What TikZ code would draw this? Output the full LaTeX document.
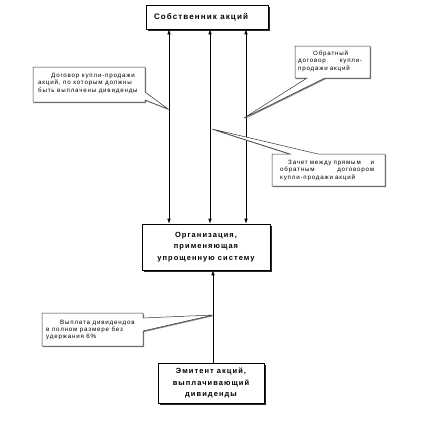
\documentclass[tikz,border=0pt]{standalone}
\usepackage{fontspec}
\setmainfont{Liberation Sans}
\newfontfamily\bxfont[LetterSpace=14]{Liberation Sans}
\newfontfamily\clfont[LetterSpace=13]{Liberation Sans}
\usetikzlibrary{arrows.meta,shadows}
\begin{document}
\begin{tikzpicture}[x=1pt,y=-1pt,
  mainbox/.style={draw, fill=white, line width=0.6pt, inner sep=0pt, align=center,
    drop shadow={shadow xshift=1.6pt, shadow yshift=-1.6pt, fill=black!85, opacity=1},
    font=\bxfont\bfseries\fontsize{7.5}{11.5}\selectfont},
  callout/.style={draw=black!80, fill=white, line width=0.5pt, line join=miter,
    drop shadow={shadow xshift=1pt, shadow yshift=-1pt, fill=black!50, opacity=1}},
  cltext/.style={inner sep=0pt, anchor=north west, align=left,
    font=\clfont\fontsize{6.2}{7.5}\selectfont},
  dbl/.style={line width=0.6pt, {Latex[length=5pt,width=3.5pt]}-{Latex[length=5pt,width=3.5pt]}},
  sgl/.style={line width=0.6pt, -{Latex[length=5pt,width=3.5pt]}}]
\useasboundingbox (0,0) rectangle (426,426);

% main boxes
\node[mainbox, minimum width=122pt, minimum height=24pt, font=\bxfont\bfseries\fontsize{8}{11.5}\selectfont] (own) at (207,17) {Собственник акций\hspace*{12pt}};
\node[mainbox, minimum width=128pt, minimum height=46pt] (org) at (206,247) {Организация,\\применяющая\\упрощенную систему};
\node[mainbox, minimum width=106pt, minimum height=40pt] (emi) at (211,383) {Эмитент акций,\\выплачивающий\\дивиденды};

% vertical connectors
\coordinate (x1) at (169,0);
\coordinate (x2) at (210,0);
\coordinate (x3) at (246,0);
\coordinate (x4) at (213,0);
\draw[dbl] (own.south -| x1) -- (org.north -| x1);
\draw[dbl] (own.south -| x2) -- (org.north -| x2);
\draw[dbl] (own.south -| x3) -- (org.north -| x3);
\draw[sgl] (emi.north -| x4) -- (org.south -| x4);

% callout tips
\coordinate (t1) at (168,109);
\coordinate (t2) at (244,118);
\coordinate (t3) at (212,129);
\coordinate (t4) at (213,315);

% callout 1
\draw[callout] (33,67) -- (145,67) -- (145,92) -- (t1) -- (145,100) -- (145,102) -- (33,102) -- cycle;
\node[cltext] (c1) at (38,73) {\hspace*{13pt}Договор купли-продажи\\акций, по которым должны\\быть выплачены дивиденды};

% callout 2
\draw[callout] (295,46) -- (370,46) -- (370,78) -- (325,78) -- (t2) -- (307,78) -- (295,78) -- cycle;
\node[cltext, text width=64pt] (c2) at (298,50.5) {\hspace*{15pt}Обратный\\договор\hfill купли-\\продажи акций};

% callout 3
\draw[callout] (272,154) -- (290,154) -- (t3) -- (318,154) -- (385,154) -- (385,186) -- (272,186) -- cycle;
\node[cltext, text width=94pt] (c3) at (280,159.5) {\hspace*{8pt}Зачет между прямым\hfill и\\обратным\hfill договором\\купли-продажи акций};

% callout 4
\draw[callout] (42,313) -- (143,313) -- (143,318) -- (t4) -- (143,331) -- (143,346) -- (42,346) -- cycle;
\node[cltext, font=\clfont\fontsize{6.2}{7}\selectfont] (c4) at (46,320.5) {\hspace*{14pt}Выплата дивидендов\\в полном размере без\\удержания 6\%};

\end{tikzpicture}
\end{document}
